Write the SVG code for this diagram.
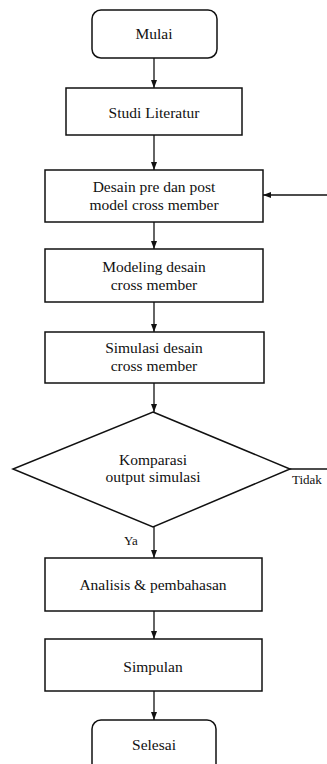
<svg xmlns="http://www.w3.org/2000/svg" width="327" height="764" viewBox="0 0 327 764">
<defs>
<marker id="ah" markerWidth="8" markerHeight="10" refX="8" refY="5" orient="auto" markerUnits="userSpaceOnUse">
<path d="M0,2 L8,5 L0,8 Z" fill="#111"/>
</marker>
<style>
.box{fill:#fff;stroke:#111;stroke-width:1.5}
.t{font-family:"Liberation Serif","Times New Roman",serif;font-size:15.5px;fill:#111;text-anchor:middle;dominant-baseline:central}
.s{font-family:"Liberation Serif","Times New Roman",serif;font-size:13px;fill:#111}
.c{fill:none;stroke:#111;stroke-width:1.3}
</style>
</defs>
<rect width="327" height="764" fill="#fff"/>
<g id="connectors">
<line class="c" x1="154" y1="58" x2="154" y2="88" marker-end="url(#ah)"/>
<line class="c" x1="154" y1="135" x2="154" y2="170" marker-end="url(#ah)"/>
<line class="c" x1="327" y1="195" x2="263" y2="195" marker-end="url(#ah)"/>
<line class="c" x1="154" y1="222" x2="154" y2="249" marker-end="url(#ah)"/>
<line class="c" x1="154" y1="302" x2="154" y2="332" marker-end="url(#ah)"/>
<line class="c" x1="154" y1="383" x2="154" y2="412" marker-end="url(#ah)"/>
<line class="c" x1="290" y1="469" x2="327" y2="469"/>
<line class="c" x1="154" y1="527" x2="154" y2="558" marker-end="url(#ah)"/>
<line class="c" x1="154" y1="611" x2="154" y2="639" marker-end="url(#ah)"/>
<line class="c" x1="154" y1="691" x2="154" y2="720" marker-end="url(#ah)"/>
<text class="s" x="292" y="484">Tidak</text>
<text class="s" x="124" y="545">Ya</text>
</g>
<g id="mulai">
<rect class="box" x="92" y="10" width="125" height="48" rx="9"/>
<text class="t" x="154" y="33">Mulai</text>
</g>
<g id="studi">
<rect class="box" x="66" y="88" width="176" height="47"/>
<text class="t" x="154" y="112">Studi Literatur</text>
</g>
<g id="desain">
<rect class="box" x="45" y="170" width="218" height="52"/>
<text class="t" x="154" y="186.5">Desain pre dan post</text>
<text class="t" x="154" y="204">model cross member</text>
</g>
<g id="modeling">
<rect class="box" x="45" y="249" width="218" height="53"/>
<text class="t" x="154" y="266.5">Modeling desain</text>
<text class="t" x="154" y="284">cross member</text>
</g>
<g id="simulasi">
<rect class="box" x="45" y="332" width="219" height="51"/>
<text class="t" x="154" y="347.5">Simulasi desain</text>
<text class="t" x="154" y="365">cross member</text>
</g>
<g id="komparasi">
<polygon class="box" points="153,412 290,469 153,527 13,469"/>
<text class="t" x="153" y="459">Komparasi</text>
<text class="t" x="153" y="476.5">output simulasi</text>
</g>
<g id="analisis">
<rect class="box" x="45" y="558" width="217" height="53"/>
<text class="t" x="153" y="584">Analisis &amp; pembahasan</text>
</g>
<g id="simpulan">
<rect class="box" x="45" y="639" width="217" height="52"/>
<text class="t" x="153" y="666">Simpulan</text>
</g>
<g id="selesai">
<rect class="box" x="92" y="720" width="124" height="60" rx="9"/>
<text class="t" x="154" y="744">Selesai</text>
</g>
</svg>
